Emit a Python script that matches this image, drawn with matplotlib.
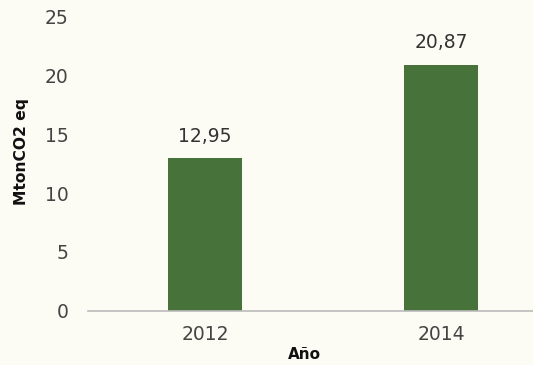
import matplotlib
matplotlib.use("Agg")
import matplotlib.pyplot as plt

years = ["2012", "2014"]
values = [12.95, 20.87]
value_labels = ["12,95", "20,87"]
yticks = [0, 5, 10, 15, 20, 25]

bg = "#FCFCF4"
fig = plt.figure(figsize=(5.33, 3.65), dpi=100, facecolor=bg)
ax = fig.add_axes([0.165, 0.148, 0.835, 0.808], facecolor=bg)

x = list(range(len(years)))
ax.bar(x, values, width=0.315, color="#47733A", zorder=2)
for xi, v, lab in zip(x, values, value_labels):
    ax.annotate(lab, (xi, v), xytext=(0, 9), textcoords="offset points",
                ha="center", va="bottom", fontsize=13.5, color="#333333")

ax.set_xlim(-0.497, 1.39)
ax.set_ylim(0, 25)
ax.set_yticks(yticks)
ax.set_yticklabels([str(t) for t in yticks])
ax.set_xticks(x)
ax.set_xticklabels(years)
ax.tick_params(axis="both", length=0, labelsize=13.5, colors="#444444")
ax.tick_params(axis="y", pad=14)
ax.tick_params(axis="x", pad=10)
for s in ["top", "right", "left"]:
    ax.spines[s].set_visible(False)
ax.spines["bottom"].set_color("#BBBBBB")
ax.spines["bottom"].set_linewidth(1.2)

fig.text(0.041, 0.585, "MtonCO2 eq", rotation=90, ha="center", va="center",
         fontsize=11.2, fontweight="bold", color="#111111")
fig.text(0.572, 0.028, "Año", ha="center", va="center",
         fontsize=11, fontweight="bold", color="#111111")

fig.savefig("out.png", dpi=100, facecolor=bg)
